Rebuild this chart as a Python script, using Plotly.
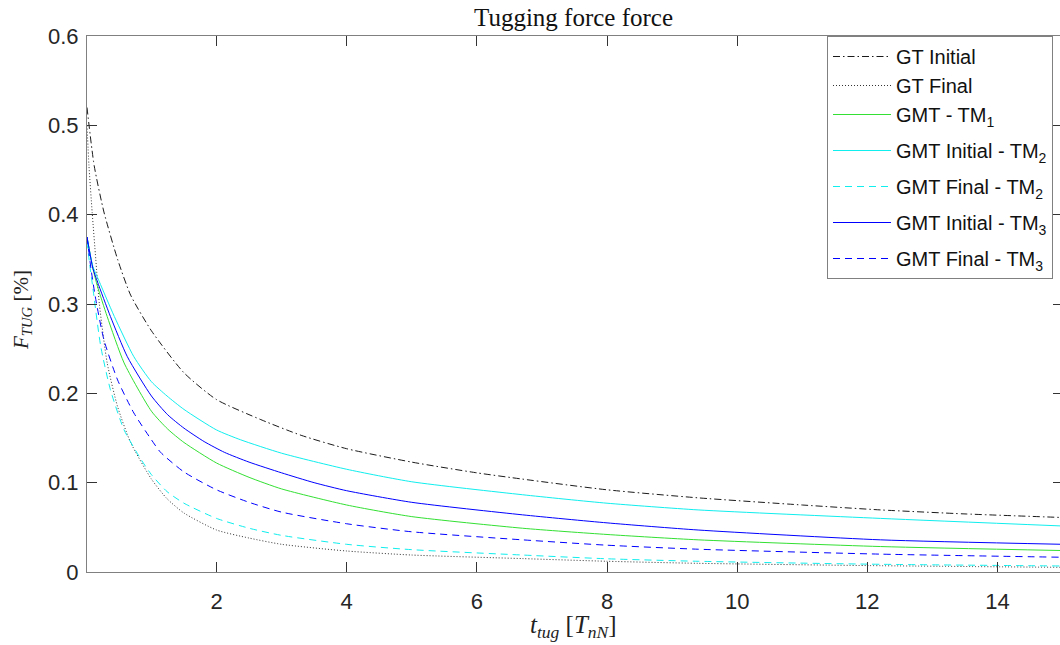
import plotly.graph_objects as go

# ---- data ----
x_gt_init = [0.01, 0.12, 0.27, 0.48, 0.68, 1.0, 1.5, 2.0, 2.7, 3.3, 4.0, 5.0, 6.0, 6.7, 8.0, 9.4, 11.0, 12.2, 13.5, 15.0]
y_gt_init = [0.52, 0.455, 0.403, 0.35, 0.31, 0.27, 0.223, 0.193, 0.17, 0.153, 0.138, 0.123, 0.111, 0.104, 0.092, 0.083, 0.075, 0.0695, 0.065, 0.061]

x_gt_final = [0.01, 0.04, 0.09, 0.145, 0.2, 0.32, 0.48, 0.68, 1.0, 1.24, 1.5, 2.0, 2.5, 3.0, 4.0, 5.0, 6.7, 8.0, 9.4, 12.0, 15.0]
y_gt_final = [0.50, 0.455, 0.402, 0.35, 0.30, 0.234, 0.185, 0.145, 0.104, 0.082, 0.066, 0.047, 0.038, 0.031, 0.0235, 0.019, 0.0150, 0.012, 0.0097, 0.0072, 0.0052]

x_tm1 = [0.01, 0.1, 0.17, 0.32, 0.58, 1.0, 1.25, 1.5, 2.0, 2.5, 3.0, 4.0, 5.0, 6.7, 8.0, 9.4, 12.2, 15.0]
y_tm1 = [0.375, 0.34, 0.32, 0.286, 0.234, 0.18, 0.16, 0.145, 0.122, 0.106, 0.093, 0.075, 0.062, 0.049, 0.042, 0.036, 0.0285, 0.024]

x_tm2_init = [0.01, 0.1, 0.17, 0.43, 0.73, 1.0, 1.24, 1.5, 2.0, 2.37, 3.0, 4.0, 5.0, 6.7, 8.0, 9.4, 12.2, 15.0]
y_tm2_init = [0.375, 0.342, 0.33, 0.286, 0.241, 0.213, 0.197, 0.182, 0.159, 0.148, 0.133, 0.115, 0.101, 0.0865, 0.077, 0.0695, 0.060, 0.0515]

x_tm2_final = [0.01, 0.05, 0.1, 0.22, 0.37, 0.58, 0.84, 1.0, 1.24, 1.5, 2.0, 2.5, 3.0, 4.0, 5.0, 6.7, 8.0, 9.4, 12.0, 15.0]
y_tm2_final = [0.37, 0.345, 0.318, 0.253, 0.204, 0.159, 0.126, 0.109, 0.090, 0.077, 0.060, 0.049, 0.041, 0.031, 0.025, 0.019, 0.0148, 0.012, 0.0088, 0.0067]

x_tm3_init = [0.01, 0.1, 0.17, 0.37, 0.63, 1.0, 1.25, 1.5, 1.81, 2.12, 2.5, 3.0, 3.5, 4.0, 5.0, 6.7, 8.0, 9.4, 12.2, 15.0]
y_tm3_init = [0.375, 0.34, 0.325, 0.286, 0.241, 0.197, 0.176, 0.161, 0.146, 0.134, 0.123, 0.111, 0.100, 0.091, 0.078, 0.064, 0.055, 0.047, 0.036, 0.031]

x_tm3_final = [0.01, 0.07, 0.145, 0.27, 0.48, 0.73, 1.0, 1.14, 1.5, 2.0, 2.5, 3.0, 4.0, 5.0, 6.7, 8.0, 9.4, 12.2, 15.0]
y_tm3_final = [0.375, 0.34, 0.305, 0.26, 0.215, 0.178, 0.148, 0.134, 0.112, 0.092, 0.078, 0.067, 0.054, 0.045, 0.036, 0.030, 0.0255, 0.020, 0.0165]

names = ["GT Initial", "GT Final", "GMT - TM<sub>1</sub>", "GMT Initial - TM<sub>2</sub>",
         "GMT Final - TM<sub>2</sub>", "GMT Initial - TM<sub>3</sub>", "GMT Final - TM<sub>3</sub>"]
groups = ["g1", "g1", "g1", "g2", "g3", "g4", "g5"]
x_ticks = [2, 4, 6, 8, 10, 12, 14]
y_ticks = [0, 0.1, 0.2, 0.3, 0.4, 0.5, 0.6]

series = [
    (x_gt_init, y_gt_init, "#1a1a1a", "7px,3px,1.5px,3px"),
    (x_gt_final, y_gt_final, "#333333", "1px,2px"),
    (x_tm1, y_tm1, "#33e033", "solid"),
    (x_tm2_init, y_tm2_init, "#10eeee", "solid"),
    (x_tm2_final, y_tm2_final, "#10eeee", "7px,5px"),
    (x_tm3_init, y_tm3_init, "#0000ff", "solid"),
    (x_tm3_final, y_tm3_final, "#0000ff", "7px,5px"),
]

fig = go.Figure()
for (xs, ys, col, dash), nm, grp in zip(series, names, groups):
    fig.add_trace(go.Scatter(x=xs, y=ys, mode="lines", name=nm, legendgroup=grp,
                             line=dict(color=col, width=1, dash=dash, shape="spline", smoothing=0.6)))
# helper trace for right-side mirrored ticks (no line)
fig.add_trace(go.Scatter(x=[None], y=[None], yaxis="y2", showlegend=False, hoverinfo="skip"))

W, H = 1060, 645
tickfont = dict(family="Liberation Sans, Arial, sans-serif", size=22, color="#262626")
fig.update_layout(
    width=W, height=H,
    margin=dict(l=87, r=0, t=36, b=73),
    paper_bgcolor="white", plot_bgcolor="white",
    title=dict(text="Tugging force force", x=0.5, xref="paper", xanchor="center",
               y=1 - 17 / H, yref="container", yanchor="middle",
               font=dict(family="Liberation Serif, Times New Roman, serif", size=25, color="#111111")),
    xaxis=dict(range=[0.01, 14.96], tickvals=x_ticks, ticks="inside", ticklen=10, tickcolor="#333333",
               showline=True, linecolor="#808080", linewidth=1, mirror="ticks",
               showgrid=False, zeroline=False, tickfont=tickfont, ticklabelstandoff=10),
    yaxis=dict(range=[0, 0.6], tickvals=y_ticks, ticks="inside", ticklen=10, tickcolor="#333333",
               showline=True, linecolor="#808080", linewidth=1, mirror=False,
               showgrid=False, zeroline=False, tickfont=tickfont, ticklabelstandoff=3),
    yaxis2=dict(range=[0, 0.6], tickvals=y_ticks, ticks="inside", ticklen=7, tickcolor="#333333",
                overlaying="y", side="right", showline=False, showticklabels=False,
                showgrid=False, zeroline=False),
    legend=dict(x=(827 - 87) / 973, y=1, xanchor="left", yanchor="top",
                bgcolor="white", bordercolor="#808080", borderwidth=1,
                font=dict(family="Liberation Sans, Arial, sans-serif", size=20, color="#111111"),
                itemwidth=58, tracegroupgap=7, traceorder="grouped"),
    showlegend=True,
)
fig.add_annotation(text="<i>t</i><sub><i>tug</i></sub> [<i>T</i><sub><i>nN</i></sub>]",
                   xref="paper", yref="paper", x=0.5, y=0, yanchor="top", yshift=-37,
                   showarrow=False,
                   font=dict(family="Liberation Serif, Times New Roman, serif", size=25, color="#222222"))
fig.add_annotation(text="<i>F</i><sub><i>TUG</i></sub> [%]", textangle=-90,
                   xref="paper", yref="paper", x=0, y=0.5, xanchor="center", xshift=-65, yshift=-6,
                   showarrow=False,
                   font=dict(family="Liberation Serif, Times New Roman, serif", size=21, color="#222222"))

# remove the default 8px page margin so the figure sits at the window's top-left corner
fig.write_html("out.html", config={"displayModeBar": False},
               post_script="document.body.style.margin='0px';document.body.style.overflow='hidden';")
